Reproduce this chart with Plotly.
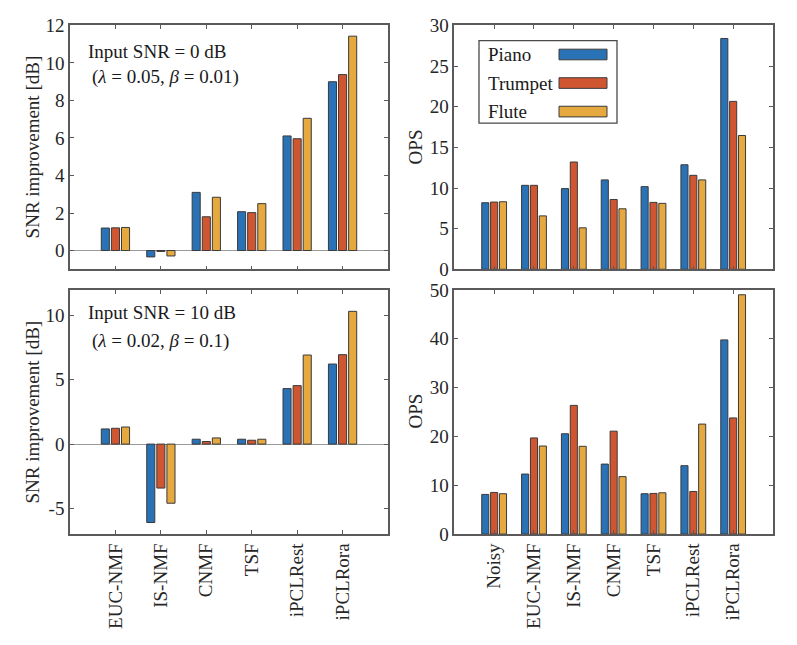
import plotly.graph_objects as go

W, H = 797, 645

# ---------------- data ----------------
methods_snr = ["EUC-NMF", "IS-NMF", "CNMF", "TSF", "iPCLRest", "iPCLRora"]
methods_ops = ["Noisy", "EUC-NMF", "IS-NMF", "CNMF", "TSF", "iPCLRest", "iPCLRora"]
series = ["Piano", "Trumpet", "Flute"]

snr0_piano = [1.20, -0.34, 3.10, 2.07, 6.11, 9.00]
snr0_trumpet = [1.21, -0.05, 1.80, 2.02, 5.96, 9.38]
snr0_flute = [1.23, -0.29, 2.84, 2.50, 7.05, 11.43]

ops0_piano = [8.19, 10.33, 9.93, 11.00, 10.17, 12.86, 28.40]
ops0_trumpet = [8.27, 10.33, 13.20, 8.59, 8.23, 11.56, 20.66]
ops0_flute = [8.31, 6.57, 5.10, 7.44, 8.11, 11.00, 16.46]

snr10_piano = [1.18, -6.10, 0.38, 0.38, 4.32, 6.23]
snr10_trumpet = [1.23, -3.42, 0.20, 0.30, 4.55, 6.96]
snr10_flute = [1.33, -4.60, 0.48, 0.38, 6.93, 10.33]

ops10_piano = [8.12, 12.29, 20.54, 14.33, 8.26, 14.00, 39.76]
ops10_trumpet = [8.52, 19.68, 26.35, 21.07, 8.32, 8.72, 23.78]
ops10_flute = [8.26, 18.03, 17.97, 11.76, 8.45, 22.52, 49.00]

colors = ["#2a72b6", "#d05632", "#e5a940"]

FONT = "Liberation Serif, Times New Roman, serif"
TXT = "#262626"
AX = "#5a5a5a"

fig = go.Figure()

panels = [
    ("x", "y", methods_snr, [snr0_piano, snr0_trumpet, snr0_flute]),
    ("x2", "y2", methods_ops, [ops0_piano, ops0_trumpet, ops0_flute]),
    ("x3", "y3", methods_snr, [snr10_piano, snr10_trumpet, snr10_flute]),
    ("x4", "y4", methods_ops, [ops10_piano, ops10_trumpet, ops10_flute]),
]
for xa, ya, cats, vals in panels:
    for name, v, c in zip(series, vals, colors):
        fig.add_trace(go.Bar(
            x=cats, y=v, name=name, xaxis=xa, yaxis=ya,
            marker=dict(color=c, line=dict(color="#3a3a3a", width=1)),
            showlegend=False,
        ))

def px_x(p):
    return p / W

def px_y(p):
    return 1 - p / H

xl = [px_x(70), px_x(388)]
xr = [px_x(454.3), px_x(773)]
yt = [px_y(268), px_y(16)]
yb = [px_y(541.7), px_y(289.3)]

common_axis = dict(
    showline=True, linecolor=AX, linewidth=1.5, mirror="allticks",
    ticks="inside", ticklen=4, tickcolor=AX, tickwidth=1.2,
    showgrid=False, tickfont=dict(family=FONT, size=19, color=TXT),
)

fig.update_layout(
    width=W, height=H, margin=dict(l=0, r=0, t=0, b=0),
    paper_bgcolor="white", plot_bgcolor="white",
    barmode="group", bargap=0.333, bargroupgap=0.2,
    font=dict(family=FONT, size=19, color=TXT),
    xaxis=dict(domain=xl, anchor="y", range=[-1, 6], showticklabels=False, **common_axis),
    yaxis=dict(domain=yt, anchor="x", range=[-1, 12], tickvals=[0, 2, 4, 6, 8, 10, 12],
               zeroline=True, zerolinecolor="#9a9a9a", zerolinewidth=1, **common_axis),
    xaxis2=dict(domain=xr, anchor="y2", range=[-1, 7], showticklabels=False, **common_axis),
    yaxis2=dict(domain=yt, anchor="x2", range=[0, 30], tickvals=[0, 5, 10, 15, 20, 25, 30],
                zeroline=False, **common_axis),
    xaxis3=dict(domain=xl, anchor="y3", range=[-1, 6], tickangle=-90, **common_axis),
    yaxis3=dict(domain=yb, anchor="x3", range=[-7, 12], tickvals=[-5, 0, 5, 10],
                ticktext=["-5", "0", "5", "10"],
                zeroline=True, zerolinecolor="#9a9a9a", zerolinewidth=1, **common_axis),
    xaxis4=dict(domain=xr, anchor="y4", range=[-1, 7], tickangle=-90, **common_axis),
    yaxis4=dict(domain=yb, anchor="x4", range=[0, 50], tickvals=[0, 10, 20, 30, 40, 50],
                zeroline=False, **common_axis),
)

ann = []
def txt(x, y, s, **kw):
    d = dict(x=px_x(x), y=px_y(y), xref="paper", yref="paper", text=s, showarrow=False,
             font=dict(family=FONT, size=19, color="#1a1a1a"), xanchor="left", yanchor="middle")
    d.update(kw)
    ann.append(d)

# panel notes
txt(86, 43, "Input SNR = 0 dB")
txt(90, 69, "(<i>λ</i> = 0.05, <i>β</i> = 0.01)")
txt(86, 313, "Input SNR = 10 dB")
txt(90, 342, "(<i>λ</i> = 0.02, <i>β</i> = 0.1)")

# axis titles
txt(32, 142, "SNR improvement [dB]", textangle=-90, xanchor="center", font=dict(family=FONT, size=19, color=TXT))
txt(32, 416, "SNR improvement [dB]", textangle=-90, xanchor="center", font=dict(family=FONT, size=19, color=TXT))
txt(415, 142, "OPS", textangle=-90, xanchor="center", font=dict(family=FONT, size=19, color=TXT))
txt(415, 415, "OPS", textangle=-90, xanchor="center", font=dict(family=FONT, size=19, color=TXT))

# custom legend (text left, patch right)
shapes = [dict(type="rect", xref="paper", yref="paper",
               x0=px_x(479), x1=px_x(617), y0=px_y(117), y1=px_y(31.7),
               line=dict(color="#4a4a4a", width=1.3), fillcolor="white")]
leg_y = [46, 75.5, 105]
for name, c, yy in zip(series, colors, leg_y):
    txt(486, yy, name)
    shapes.append(dict(type="rect", xref="paper", yref="paper",
                       x0=px_x(559), x1=px_x(607), y0=px_y(yy + 5.5), y1=px_y(yy - 5.5),
                       line=dict(color="#3a3a3a", width=1), fillcolor=c))

fig.update_layout(annotations=ann, shapes=shapes)
fig.write_html("out.html", config={"displayModeBar": False},
               post_script="document.body.style.margin='0px';document.body.style.overflow='hidden';")
